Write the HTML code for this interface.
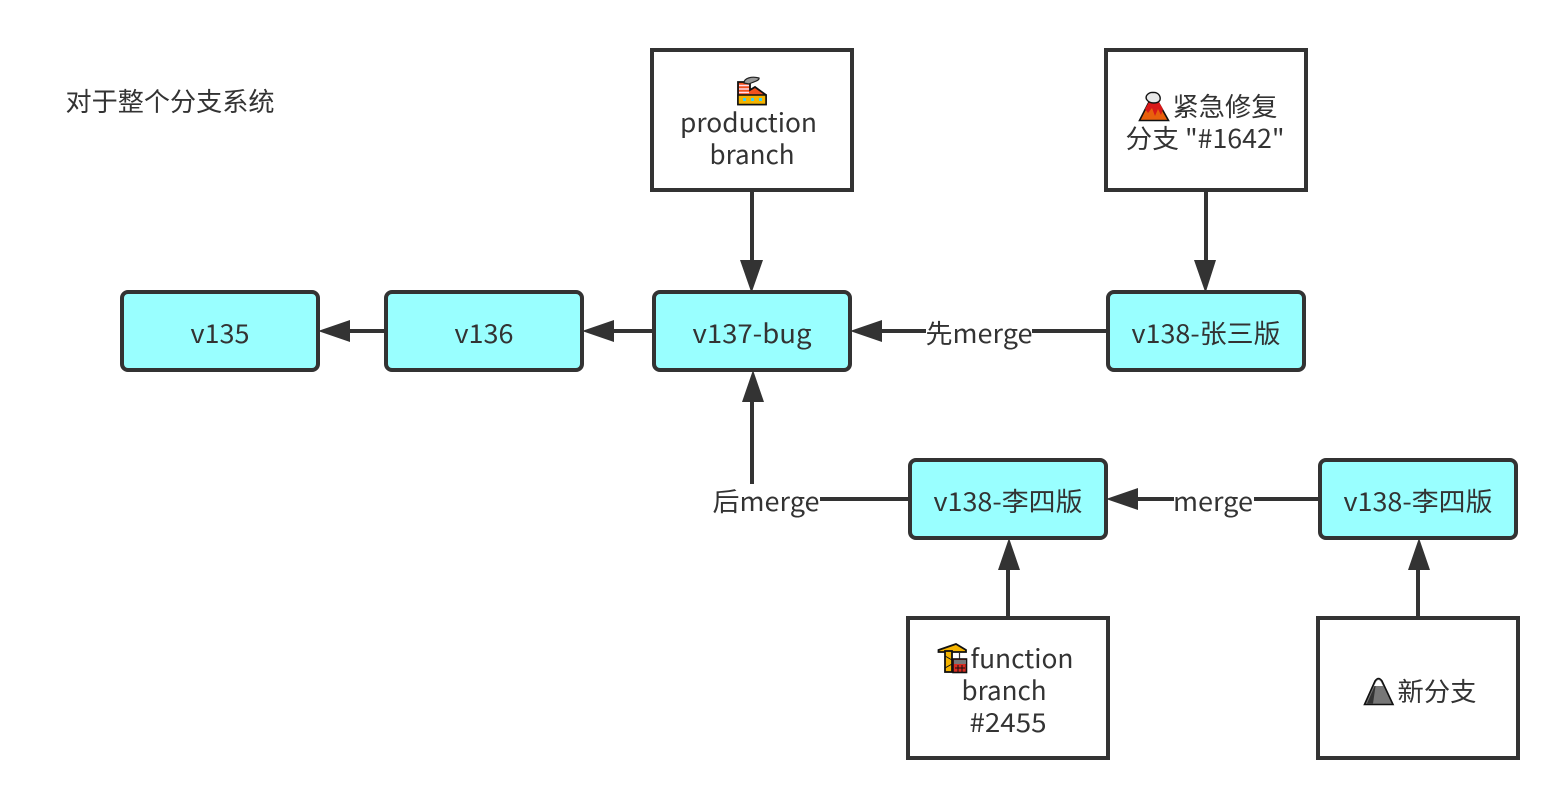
<!DOCTYPE html>
<html><head><meta charset="utf-8"><style>
html,body{margin:0;padding:0;background:#fff}
svg{display:block}
text{font-family:"Noto Sans CJK SC","Liberation Sans",sans-serif;font-size:26px;fill:#333;text-anchor:middle}
.b{fill:#fff;stroke:#333;stroke-width:4}
.r{fill:#99ffff;stroke:#333;stroke-width:4}
.l{stroke:#333;stroke-width:4;fill:none}
.a{fill:#333}
</style></head><body>
<svg width="1568" height="808" viewBox="0 0 1568 808" xmlns="http://www.w3.org/2000/svg">
<rect width="1568" height="808" fill="#fff"/>
<text x="170" y="111" textLength="209" lengthAdjust="spacingAndGlyphs">对于整个分支系统</text>

<!-- connectors -->
<path class="l" d="M752 190V262M1206 190V262M386 331H348M654 331H612M1108 331H1032M926 331H880M752 484V400M910 499H820M1320 499H1254M1174 499H1136M1008 618V568M1418 618V568"/>
<path class="a" d="M751.500 293L740 260H763ZM1205.500 293L1194 260H1216ZM318 331L350 320V342ZM582 331L614 320V342ZM850 331L882 320V342ZM753 370L742 402H764ZM1106 499L1138 488V510ZM1009 538L998 570H1020ZM1419 538L1408 570H1430Z"/>

<!-- boxes -->
<rect class="b" x="652" y="50" width="200" height="140"/>
<rect class="b" x="1106" y="50" width="200" height="140"/>
<rect class="b" x="908" y="618" width="200" height="140"/>
<rect class="b" x="1318" y="618" width="200" height="140"/>
<rect class="r" x="122" y="292" width="196" height="78" rx="6"/>
<rect class="r" x="386" y="292" width="196" height="78" rx="6"/>
<rect class="r" x="654" y="292" width="196" height="78" rx="6"/>
<rect class="r" x="1108" y="292" width="196" height="78" rx="6"/>
<rect class="r" x="910" y="460" width="196" height="78" rx="6"/>
<rect class="r" x="1320" y="460" width="196" height="78" rx="6"/>

<!-- labels -->
<text x="220" y="343" textLength="59" lengthAdjust="spacingAndGlyphs">v135</text>
<text x="484" y="343" textLength="59" lengthAdjust="spacingAndGlyphs">v136</text>
<text x="752" y="343" textLength="119" lengthAdjust="spacingAndGlyphs">v137-bug</text>
<text x="1206" y="343" textLength="149" lengthAdjust="spacingAndGlyphs">v138-张三版</text>
<text x="1008" y="511" textLength="149" lengthAdjust="spacingAndGlyphs">v138-李四版</text>
<text x="1418" y="511" textLength="149" lengthAdjust="spacingAndGlyphs">v138-李四版</text>
<text x="979" y="343" textLength="107" lengthAdjust="spacingAndGlyphs">先merge</text>
<text x="766" y="511" textLength="107" lengthAdjust="spacingAndGlyphs">后merge</text>
<text x="1213" y="511" textLength="80" lengthAdjust="spacingAndGlyphs">merge</text>

<text x="748.500" y="132" textLength="137" lengthAdjust="spacingAndGlyphs">production</text>
<text x="752" y="164" textLength="85" lengthAdjust="spacingAndGlyphs">branch</text>
<text x="1225" y="116" textLength="105" lengthAdjust="spacingAndGlyphs">紧急修复</text>
<text x="1205" y="148" textLength="159" lengthAdjust="spacingAndGlyphs">分支 "#1642"</text>
<text x="1022" y="668" textLength="103" lengthAdjust="spacingAndGlyphs">function</text>
<text x="1004" y="700" textLength="85" lengthAdjust="spacingAndGlyphs">branch</text>
<text x="1008" y="732" textLength="77" lengthAdjust="spacingAndGlyphs">#2455</text>
<text x="1437" y="701" textLength="79" lengthAdjust="spacingAndGlyphs">新分支</text>

<!-- factory icon -->
<path d="M738 104.500V82H750V90L755 87L766 95V104.500Z" fill="#f4511e" stroke="#111" stroke-width="1.800"/>
<rect x="738" y="95" width="28" height="9.500" fill="#f5b400" stroke="#111" stroke-width="1.500"/>
<path d="M739 85.500H749M739 89H749M739 92.500H749" stroke="#fde" stroke-width="1.500"/>
<path d="M744 83C744 78 752 76 759 78C760 81 752 82 749 84Z" fill="#999" stroke="#222" stroke-width="1.200"/>
<path d="M743 98h3v3h-3zM751 98h3v3h-3zM759 98h3v3h-3z" fill="#3cd0f0"/>

<!-- volcano icon -->
<path d="M1139.500 120.500L1150 100H1157L1168.500 120.500Z" fill="#e8600c" stroke="#111" stroke-width="1.600"/>
<path d="M1149 102H1159L1163 109L1161 115L1158 109L1155 116L1152 108L1148 113L1145 109Z" fill="#d81818"/>
<path d="M1147 100C1144 96 1149 92 1153 92.500C1158 92 1161 96 1160 100C1158 104 1150 104 1147 100Z" fill="#e8e8e8" stroke="#111" stroke-width="1.400"/>

<!-- crane icon -->
<path d="M938.500 650L956 644L966 650V652H938.500Z" fill="#f5b400" stroke="#111" stroke-width="1.800"/>
<rect x="945" y="651" width="7" height="21" fill="#f5b400" stroke="#111" stroke-width="1.800"/>
<path d="M945 656L952 660M952 664L945 668" stroke="#111" stroke-width="1"/>
<path d="M959.500 652V659" stroke="#333" stroke-width="1.200"/>
<rect x="953" y="659" width="13.500" height="13.500" fill="#d92b20" stroke="#111" stroke-width="1.600"/>
<rect x="954" y="660" width="12" height="4" fill="#777"/>
<path d="M955 668H965M958 665V672M962 665V672" stroke="#111" stroke-width="1"/>

<!-- mountain icon -->
<path d="M1364.500 704.500L1375 681Q1378.500 676 1382 681L1393 704.500Z" fill="#777" stroke="#111" stroke-width="1.600"/>
<path d="M1367 703.500L1376 683L1373 703.500Z" fill="#333"/>
<path d="M1376 682Q1378.500 678 1381 682L1383 686H1374Z" fill="#fff"/>
</svg>
</body></html>
